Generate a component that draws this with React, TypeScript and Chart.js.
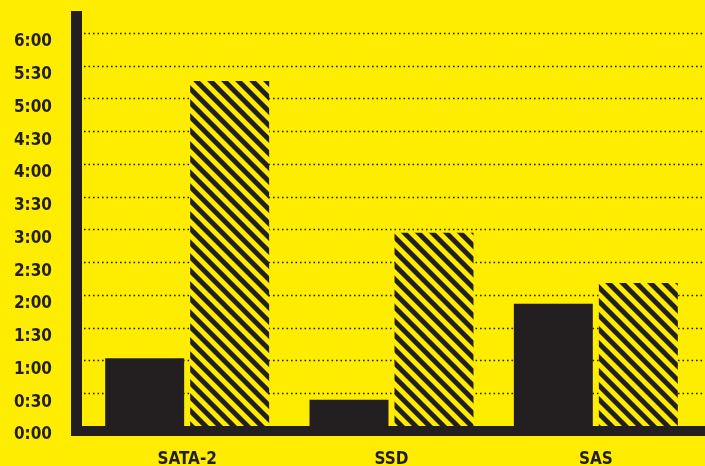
import React, { useEffect, useRef } from 'react';
import { Chart, registerables } from 'chart.js';
Chart.register(...registerables);

// Data (values in minutes)
const categories = ['SATA-2', 'SSD', 'SAS'];
const solidValues = [62, 24, 112];
const hatchedValues = [316, 177, 131];
const tickLabels = ['0:00', '0:30', '1:00', '1:30', '2:00', '2:30', '3:00', '3:30', '4:00', '4:30', '5:00', '5:30', '6:00'];
const tickStep = 30;
const axisMax = 380;

const YELLOW = '#ffed00';
const DARK = '#231f20';
const FONT = '"DejaVu Sans Condensed", "DejaVu Sans", sans-serif';

function makeHatch(): CanvasPattern | string {
  const size = 14;
  const c = document.createElement('canvas');
  c.width = size;
  c.height = size;
  const ctx = c.getContext('2d');
  if (!ctx) return DARK;
  ctx.fillStyle = YELLOW;
  ctx.fillRect(0, 0, size, size);
  ctx.fillStyle = DARK;
  const w = 7;
  for (const k of [-size, 0, size]) {
    ctx.beginPath();
    ctx.moveTo(k, 0);
    ctx.lineTo(k + w, 0);
    ctx.lineTo(k + w + size, size);
    ctx.lineTo(k + size, size);
    ctx.closePath();
    ctx.fill();
  }
  return ctx.createPattern(c, 'repeat') || DARK;
}

const decorPlugin = {
  id: 'decor',
  beforeDatasetsDraw(chart: any) {
    const { ctx, chartArea, scales } = chart;
    const y = scales.y;
    ctx.save();
    ctx.strokeStyle = DARK;
    ctx.lineWidth = 1.3;
    ctx.setLineDash([1.6, 2.9]);
    for (const t of y.ticks) {
      if (t.value === 0) continue;
      const py = Math.round(y.getPixelForValue(t.value)) + 0.5;
      ctx.beginPath();
      ctx.moveTo(chartArea.left - 1, py);
      ctx.lineTo(chart.width, py);
      ctx.stroke();
    }
    ctx.restore();
  },
  afterDatasetsDraw(chart: any) {
    const { ctx, chartArea } = chart;
    ctx.save();
    ctx.fillStyle = DARK;
    const x0 = chartArea.left - 14;
    ctx.fillRect(x0, chartArea.top, 11, chartArea.bottom + 10 - chartArea.top);
    ctx.fillRect(x0, chartArea.bottom, chart.width - x0, 10);
    ctx.restore();
  },
};

export default function App() {
  const ref = useRef<HTMLCanvasElement>(null);
  useEffect(() => {
    if (!ref.current) return;
    const hatch = makeHatch();
    const chart = new Chart(ref.current, {
      type: 'bar',
      data: {
        labels: categories,
        datasets: [
          {
            data: solidValues,
            backgroundColor: DARK,
            borderWidth: 0,
            categoryPercentage: 0.832,
            barPercentage: 0.929,
          },
          {
            data: hatchedValues,
            backgroundColor: hatch as any,
            borderWidth: 0,
            categoryPercentage: 0.832,
            barPercentage: 0.929,
          },
        ],
      },
      options: {
        animation: false,
        responsive: false,
        devicePixelRatio: 1,
        layout: { padding: { top: 11, right: 7, left: 0, bottom: 0 } },
        plugins: { legend: { display: false }, tooltip: { enabled: false } },
        scales: {
          x: {
            grid: { display: false, drawTicks: false },
            border: { display: false },
            ticks: {
              color: DARK,
              padding: 23,
              font: { family: FONT, size: 17, weight: 'bold' },
            },
            afterFit: (s: any) => {
              s.height = 40;
              s.paddingLeft = 0;
              s.paddingRight = 0;
            },
          },
          y: {
            min: 0,
            max: axisMax,
            grid: { display: false, drawTicks: false },
            border: { display: false },
            ticks: {
              stepSize: tickStep,
              color: DARK,
              padding: 33,
              labelOffset: 9,
              font: { family: FONT, size: 17, weight: 'bold' },
              callback: (v: any) => tickLabels[Math.round(Number(v) / tickStep)] ?? '',
            },
            afterBuildTicks: (s: any) => {
              s.ticks = s.ticks.filter((t: any) => t.value % tickStep === 0);
            },
            afterFit: (s: any) => {
              s.width = 85;
              s.paddingTop = 0;
              s.paddingBottom = 0;
            },
          },
        },
      },
      plugins: [decorPlugin],
    });
    return () => chart.destroy();
  }, []);

  return (
    <div style={{ position: 'fixed', left: 0, top: 0, width: 705, height: 466, background: YELLOW, overflow: 'hidden' }}>
      <canvas ref={ref} width={705} height={466} style={{ display: 'block' }} />
    </div>
  );
}
